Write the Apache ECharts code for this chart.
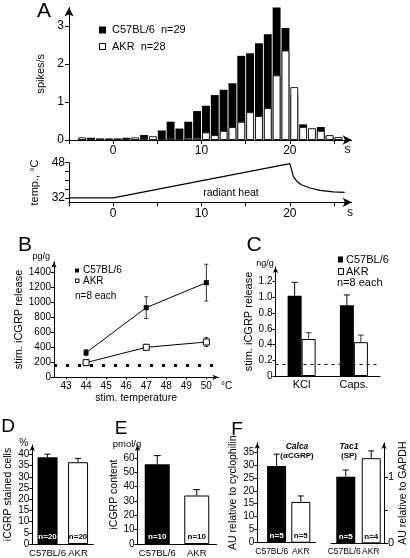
<!DOCTYPE html>
<html><head><meta charset="utf-8">
<script src="https://cdn.jsdelivr.net/npm/echarts@6/dist/echarts.min.js"></script>
<style>html,body{margin:0;padding:0;background:#fff}#c{width:410px;height:558px}</style>
</head><body><div id="c"></div><script>
// ---------- DATA ----------
// Panel A: spike histogram (1-s bins, start of bin in s)
const spikeBinStart = [-4,-3,-2,-1,0,1,2,3,4,5,6,7,8,9,10,11,12,13,14,15,16,17,18,19,20,21,22,23,24,25];
const spikesC57 = [0.05,0.06,0.04,0.04,0.04,0.06,0.05,0.13,0.08,0.25,0.48,0.30,0.48,0.76,0.90,1.18,1.32,1.49,2.21,2.28,2.54,2.78,3.53,2.94,1.20,0.41,0.28,0.34,0.10,0.05];
const spikesAKR = [0.07,0.04,0.03,0.03,0.03,0.04,0.07,0.05,0.10,0.02,0.05,0.02,0.06,0.06,0.20,0.13,0.24,0.34,0.48,0.73,0.63,0.84,1.70,2.35,1.39,0.34,0.31,0.24,0.13,0.08];
const legendA = ['C57BL/6  n=29', 'AKR  n=28'];
// Panel A: radiant heat temperature profile
const tempTime = [-5, 0, 20, 20.2, 20.4, 20.8, 21.3, 22.3, 23.4, 24.9, 26.2];
const tempC    = [32, 32, 47.6, 44.7, 41.7, 39.5, 38.0, 36.5, 35.4, 34.7, 34.5];
// Panel B: stimulated iCGRP release vs temperature
const bTemps = [44, 47, 50];
const bC57 = [328, 928, 1261];
const bC57Err = [40, 145, 245];
const bAKR = [195, 400, 470];
const bAKRErr = [30, 22, 60];
const bSig = ['', '**', '**'];
const bBaseline = 155;
// Panel C: KCl / capsaicin
const cStim = ['KCl', 'Caps.'];
const cC57 = [1.02, 0.90];
const cC57Err = [0.17, 0.13];
const cAKR = [0.47, 0.43];
const cAKRErr = [0.08, 0.09];
const cSig = ['*\n*', '*'];
const cBaseline = 0.15;
// Panel D, E
const strains = ['C57BL/6', 'AKR'];
const dVals = [38.7, 36.5];
const dErr = [1.4, 1.7];
const dN = ['n=20', 'n=20'];
const eVals = [55.5, 33.8];
const eErr = [6.1, 4.1];
const eN = ['n=10', 'n=10'];
const eSig = ['', '***'];
// Panel F
const fCalca = [29.5, 15.7];
const fCalcaErr = [4.6, 2.3];
const fCalcaN = ['n=5', 'n=5'];
const fCalcaSig = ['', '*'];
const fTac1 = [1.01, 1.29];
const fTac1Err = [0.10, 0.11];
const fTac1N = ['n=5', 'n=4'];

// ---------- HELPERS ----------
const FF = '"Liberation Sans", Arial, Helvetica, sans-serif';
const K = '#000';
function font(size, weight, italic) { return (italic ? 'italic ' : '') + (weight || 'normal') + ' ' + size + 'px ' + FF; }
function txt(text, x, y, size, o) {
  o = o || {};
  return { type: 'text', x: x, y: y, rotation: o.rot || 0, silent: true, z: 100,
    style: { text: text, fill: K, font: font(size, o.weight, o.italic), align: o.align || 'center', verticalAlign: o.va || 'middle', lineHeight: o.lh } };
}
function axLine(arrow, size) {
  return { show: true, onZero: false, lineStyle: { color: K, width: 1 }, symbol: arrow ? ['none', 'arrow'] : 'none', symbolSize: size || [5, 7] };
}
function valAxis(grid, min, max, ticks, labels, fs, o) {
  o = o || {};
  return {
    type: 'value', gridIndex: grid, min: min, max: max, position: o.position,
    axisLine: axLine(o.arrow !== false, o.arrowSize),
    axisTick: { show: ticks.length > 0, customValues: ticks, length: o.tickLen || 3, inside: !!o.tickInside, lineStyle: { color: K } },
    axisLabel: { show: labels.length > 0, customValues: labels, color: K, fontSize: fs, fontFamily: FF, margin: o.margin || 4,
      formatter: o.formatter || function (v) { return String(v); }, hideOverlap: false, showMinLabel: true, showMaxLabel: true },
    splitLine: { show: false },
    name: o.name, nameLocation: 'middle', nameGap: o.nameGap, nameRotate: o.nameRotate,
    nameTextStyle: { color: K, fontSize: o.nameSize || 11, fontFamily: FF }
  };
}
function catAxis(grid, cats, fs, margin, noLine) {
  return { type: 'category', gridIndex: grid, data: cats, position: 'bottom',
    axisLine: noLine ? { show: false } : axLine(false), axisTick: { show: false },
    axisLabel: { color: K, fontSize: fs, fontFamily: FF, margin: margin, interval: 0, showMinLabel: true, showMaxLabel: true }, splitLine: { show: false } };
}
// error bars through library coordinates
function errSeries(xi, yi, data, opt) {
  return {
    type: 'custom', xAxisIndex: xi, yAxisIndex: yi, data: data, silent: true, z: opt.z || 4,
    encode: { x: 0, y: 1 },
    renderItem: function (params, api) {
      const x = api.value(0), m = api.value(1), e = api.value(2);
      const top = api.coord([x, m + e]);
      const mid = api.coord([x, m]);
      const bot = opt.both ? api.coord([x, m - e]) : mid;
      const cx = top[0] + (opt.offset || 0);
      const cap = opt.cap / 2;
      const st = { stroke: opt.color || K, lineWidth: 1 };
      const ch = [
        { type: 'line', shape: { x1: cx, y1: top[1], x2: cx, y2: bot[1] }, style: st },
        { type: 'line', shape: { x1: cx - cap, y1: top[1], x2: cx + cap, y2: top[1] }, style: st }
      ];
      if (opt.both) ch.push({ type: 'line', shape: { x1: cx - cap, y1: bot[1], x2: cx + cap, y2: bot[1] }, style: st });
      return { type: 'group', children: ch };
    }
  };
}
function starSeries(xi, yi, data, fs, offset) {
  return { type: 'scatter', xAxisIndex: xi, yAxisIndex: yi, symbolSize: 1, silent: true, z: 6,
    itemStyle: { opacity: 0 },
    data: data,
    label: { show: true, position: 'top', distance: 0, offset: offset || [0, 0], color: K, fontSize: fs, fontWeight: 'bold', fontFamily: FF, lineHeight: fs * 0.6,
      formatter: function (p) { return p.data[2]; } } };
}
function nLabel(color) { return { show: true, position: 'insideBottom', distance: 3, color: color, fontSize: 8, fontWeight: 'bold', fontFamily: FF, formatter: function (p) { return p.data.n; } }; }
function barItems(xs, vals, ns) {
  return vals.map(function (v, i) {
    const black = i === 0;
    return { value: [xs[i], v], n: ns[i],
      itemStyle: { color: black ? K : '#fff', borderColor: K, borderWidth: black ? 0 : 1 },
      label: nLabel(black ? '#fff' : K) };
  });
}

// ---------- OPTION ----------
const chart = echarts.init(document.getElementById('c'), null, { renderer: 'canvas' });
const grids = [
  { left: 69, top: 7.5, width: 282.7, height: 132.5 },   // 0 A spikes
  { left: 69, top: 162.7, width: 282.7, height: 39.6 },  // 1 A temperature
  { left: 54, top: 261.7, width: 164.4, height: 115.6 }, // 2 B
  { left: 275.5, top: 267, width: 104.5, height: 109 },  // 3 C
  { left: 32.3, top: 445, width: 61, height: 99 },       // 4 D
  { left: 137.5, top: 445, width: 79, height: 101 },     // 5 E
  { left: 257.3, top: 442.7, width: 58, height: 100 },   // 6 F calca
  { left: 331, top: 443, width: 55, height: 100.3 }      // 7 F tac1
];
const fPos = [1, 2];
const xAxes = [
  valAxis(0, -5, 27, [-5, 0, 5, 10, 15, 20, 25], [0, 10, 20], 12, { arrowSize: [7, 9], tickLen: 4, margin: 5 }),
  valAxis(1, -5, 27, [-5, 0, 5, 10, 15, 20, 25], [0, 10, 20], 12, { arrowSize: [7, 9], tickLen: 4, margin: 5 }),
  valAxis(2, 42.4, 50.6, [43, 44, 45, 46, 47, 48, 49, 50], [43, 44, 45, 46, 47, 48, 49, 50], 10, { arrowSize: [4, 6], tickLen: 2, margin: 4,
    name: 'stim. temperature', nameGap: 15, nameSize: 10.5 }),
  catAxis(3, cStim, 11, 3),
  catAxis(4, strains, 9.5, 4),
  catAxis(5, strains, 9.5, 4),
  valAxis(6, 0.2025, 0.2025 + 58 / 24.2, [], [], 9.5, { arrow: false }),
  valAxis(7, 0.42, 2.5, [], [], 9.5, { arrow: false }),
  catAxis(6, strains, 8.5, 4, true),   // 8: group names for F calca
  catAxis(7, strains, 8.5, 4, true)    // 9: group names for F tac1
];
const yAxes = [
  valAxis(0, 0, 3.48, [0, 1, 2, 3], [0, 1, 2, 3], 12, { arrowSize: [7, 9], tickLen: 4, margin: 5, name: 'spikes/s', nameGap: 21, nameRotate: 90, nameSize: 11 }),
  valAxis(1, 30, 48, [32, 36, 40, 44, 48], [32, 48], 12, { arrow: false, tickLen: 4, margin: 4, name: 'temp., °C', nameGap: 19, nameRotate: 90, nameSize: 11 }),
  valAxis(2, 0, 1540, [0, 200, 400, 600, 800, 1000, 1200, 1400], [0, 200, 400, 600, 800, 1000, 1200, 1400], 10, { arrowSize: [4, 6], tickLen: 3, margin: 3,
    name: 'stim. iCGRP release', nameGap: 23, nameRotate: 90, nameSize: 11 }),
  valAxis(3, 0, 1.385, [0, 0.2, 0.4, 0.6, 0.8, 1.0, 1.2], [0, 0.2, 0.4, 0.6, 0.8, 1.0, 1.2], 10, { arrowSize: [4, 6], tickLen: 3, margin: 3,
    formatter: function (v) { return v === 0 ? '0' : v.toFixed(1); }, name: 'stim. iCGRP release', nameGap: 19, nameRotate: 90, nameSize: 11 }),
  valAxis(4, 0, 44.2, [0, 5, 10, 15, 20, 25, 30, 35, 40], [0, 5, 10, 15, 20, 25, 30, 35, 40], 10, { arrowSize: [4, 6], tickLen: 3, margin: 3,
    name: 'iCGRP stained cells', nameGap: 19, nameRotate: 90, nameSize: 10.5 }),
  valAxis(5, 0, 69, [0, 10, 20, 30, 40, 50, 60], [0, 10, 20, 30, 40, 50, 60], 10, { arrowSize: [4, 6], tickLen: 3, margin: 3,
    name: 'iCGRP content', nameGap: 15, nameRotate: 90, nameSize: 10.5 }),
  valAxis(6, 0, 38.5, [0, 5, 10, 15, 20, 25, 30, 35], [0, 5, 10, 15, 20, 25, 30, 35], 10, { arrowSize: [4, 6], tickLen: 3, margin: 3,
    name: 'AU relative to cyclophilin', nameGap: 19, nameRotate: 90, nameSize: 10.5 }),
  valAxis(7, 0, 1.52, [0, 0.5, 1], [0, 1], 11, { arrowSize: [4, 6], tickLen: 4, margin: 4, position: 'right',
    name: 'AU relative to GAPDH', nameGap: 9, nameRotate: 90, nameSize: 10.5 })
];

const series = [
  // A histogram
  { type: 'bar', xAxisIndex: 0, yAxisIndex: 0, silent: true, barWidth: 7.9, barGap: '-100%', z: 2,
    data: spikeBinStart.map(function (s, i) { return [s + 0.5, spikesC57[i]]; }), itemStyle: { color: K } },
  { type: 'bar', xAxisIndex: 0, yAxisIndex: 0, silent: true, barWidth: 7.9, barGap: '-100%', z: 3,
    data: spikeBinStart.map(function (s, i) { return [s + 0.5, spikesAKR[i]]; }), itemStyle: { color: '#fff', borderColor: '#222', borderWidth: 1 } },
  // A temperature
  { type: 'line', xAxisIndex: 1, yAxisIndex: 1, silent: true, showSymbol: false, symbol: 'none',
    data: tempTime.map(function (t, i) { return [t, tempC[i]]; }), lineStyle: { color: K, width: 1.2 } },
  // B
  errSeries(2, 2, bTemps.map(function (t, i) { return [t, bC57[i], bC57Err[i]]; }), { both: true, cap: 4, z: 1, color: '#333' }),
  errSeries(2, 2, bTemps.map(function (t, i) { return [t, bAKR[i], bAKRErr[i]]; }), { both: true, cap: 4, z: 1, color: '#333' }),
  { type: 'line', xAxisIndex: 2, yAxisIndex: 2, silent: true, symbol: 'rect', symbolSize: 5, z: 3,
    data: bTemps.map(function (t, i) { return [t, bC57[i]]; }), itemStyle: { color: K }, lineStyle: { color: K, width: 1 },
    markLine: { silent: true, symbol: 'none', label: { show: false }, lineStyle: { color: K, type: [3, 9], width: 3 }, data: [{ yAxis: bBaseline }] } },
  { type: 'line', xAxisIndex: 2, yAxisIndex: 2, silent: true, symbol: 'rect', symbolSize: 6, z: 3,
    data: bTemps.map(function (t, i) { return [t, bAKR[i]]; }), itemStyle: { color: '#fff', borderColor: K, borderWidth: 1 }, lineStyle: { color: K, width: 1 } },
  starSeries(2, 2, bTemps.map(function (t, i) { return [t, (bC57[i] - bC57Err[i] + bAKR[i] + bAKRErr[i]) / 2 - 40, bSig[i]]; }).filter(function (d) { return d[2]; }), 9),
  // C
  { type: 'bar', xAxisIndex: 3, yAxisIndex: 3, silent: true, barWidth: 14, barGap: '0%', data: cC57, itemStyle: { color: K }, z: 2,
    markLine: { silent: true, symbol: 'none', label: { show: false }, lineStyle: { color: K, type: [3, 4], width: 1 }, data: [{ yAxis: cBaseline }] } },
  { type: 'bar', xAxisIndex: 3, yAxisIndex: 3, silent: true, barWidth: 14, barGap: '0%', data: cAKR, itemStyle: { color: '#fff', borderColor: K, borderWidth: 1 }, z: 2 },
  errSeries(3, 3, cC57.map(function (v, i) { return [i, v, cC57Err[i]]; }), { cap: 6, offset: -7 }),
  errSeries(3, 3, cAKR.map(function (v, i) { return [i, v, cAKRErr[i]]; }), { cap: 6, offset: 7, color: '#333' }),
  starSeries(3, 3, cAKR.map(function (v, i) { return [i, v + cAKRErr[i], cSig[i]]; }), 10, [7, 2]),
  // D
  { type: 'bar', xAxisIndex: 4, yAxisIndex: 4, silent: true, barWidth: 20, data: barItems([0, 1], dVals, dN), z: 2 },
  errSeries(4, 4, dVals.map(function (v, i) { return [i, v, dErr[i]]; }), { cap: 6 }),
  // E
  { type: 'bar', xAxisIndex: 5, yAxisIndex: 5, silent: true, barWidth: 25, data: barItems([0, 1], eVals, eN), z: 2 },
  errSeries(5, 5, eVals.map(function (v, i) { return [i, v, eErr[i]]; }), { cap: 7 }),
  starSeries(5, 5, eVals.map(function (v, i) { return [i, v + eErr[i], eSig[i]]; }).filter(function (d) { return d[2]; }), 8),
  // F
  { type: 'bar', xAxisIndex: 6, yAxisIndex: 6, silent: true, barWidth: 19, data: barItems(fPos, fCalca, fCalcaN), z: 2 },
  errSeries(6, 6, fCalca.map(function (v, i) { return [fPos[i], v, fCalcaErr[i]]; }), { cap: 6 }),
  starSeries(6, 6, fCalca.map(function (v, i) { return [fPos[i], v + fCalcaErr[i], fCalcaSig[i]]; }).filter(function (d) { return d[2]; }), 8),
  { type: 'bar', xAxisIndex: 7, yAxisIndex: 7, silent: true, barWidth: 19, data: barItems(fPos, fTac1, fTac1N), z: 2 },
  errSeries(7, 7, fTac1.map(function (v, i) { return [fPos[i], v, fTac1Err[i]]; }), { cap: 6 })
];

const graphics = [
  txt('A', 44, 11, 21), txt('B', 25, 245, 21), txt('C', 254, 245, 21),
  txt('D', 8, 427, 19), txt('E', 121, 428.5, 19), txt('F', 237, 430, 19),
  // legend A
  { type: 'rect', shape: { x: 99, y: 26.5, width: 7, height: 7 }, style: { fill: K }, silent: true },
  txt(legendA[0], 112, 30, 11, { align: 'left' }),
  { type: 'rect', shape: { x: 99.5, y: 43.5, width: 6, height: 6 }, style: { fill: '#fff', stroke: K, lineWidth: 1 }, silent: true },
  txt(legendA[1], 112, 47, 11, { align: 'left' }),
  txt('s', 347.5, 150, 12), txt('s', 350, 213, 12),
  txt('radiant heat', 231, 193, 10.5),
  // B
  txt('pg/g', 50, 257, 9, { align: 'right' }),
  { type: 'rect', shape: { x: 75, y: 268.5, width: 4, height: 4 }, style: { fill: K }, silent: true },
  txt('C57BL/6', 83, 270.5, 10, { align: 'left' }),
  { type: 'rect', shape: { x: 75.5, y: 279, width: 3.5, height: 3.5 }, style: { fill: '#fff', stroke: K, lineWidth: 1 }, silent: true },
  txt('AKR', 83, 281, 10, { align: 'left' }),
  txt('n=8 each', 75, 296, 10, { align: 'left' }),
  txt('°C', 221, 386, 10, { align: 'left' }),
  // C
  txt('ng/g', 265, 263.5, 9),
  { type: 'rect', shape: { x: 338, y: 256.5, width: 5, height: 6 }, style: { fill: K }, silent: true },
  txt('C57BL/6', 346, 260, 11, { align: 'left' }),
  { type: 'rect', shape: { x: 338.5, y: 268.5, width: 5, height: 6 }, style: { fill: '#fff', stroke: K, lineWidth: 1 }, silent: true },
  txt('AKR', 346, 272, 11, { align: 'left' }),
  txt('n=8 each', 337, 283, 11, { align: 'left' }),
  // D E F units / titles
  txt('%', 23.7, 443, 10), txt('pmol/g', 127, 444, 9.5),
  txt('Calca', 297, 447, 8.5, { weight: 'bold', italic: true }), txt('(αCGRP)', 297, 455.5, 8, { weight: 'bold' }),
  txt('Tac1', 349, 447, 8.5, { weight: 'bold', italic: true }), txt('(SP)', 349, 455.5, 8, { weight: 'bold' })
];

chart.setOption({
  animation: false, backgroundColor: '#fff',
  textStyle: { fontFamily: FF },
  grid: grids, xAxis: xAxes, yAxis: yAxes, series: series, graphic: graphics
});
</script></body></html>
